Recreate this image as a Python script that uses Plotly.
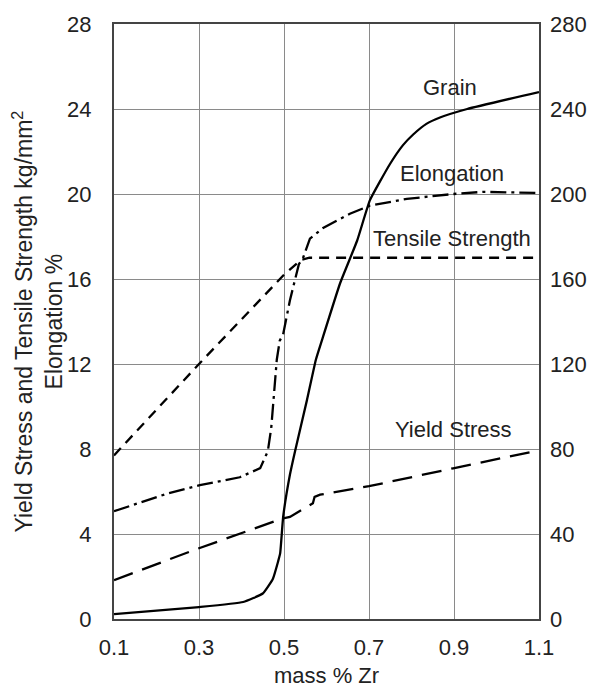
import plotly.graph_objects as go

# Data (mass % Zr)
grain_x = [0.1, 0.3, 0.404, 0.45, 0.474, 0.486, 0.491, 0.498, 0.514, 0.526, 0.554, 0.575, 0.589, 0.632, 0.672, 0.702, 0.749, 0.78, 0.804, 0.835, 0.867, 0.931, 1.1]
grain_y = [2.3, 5.6, 8, 12, 19, 27, 31, 48, 68, 79, 103, 122, 131, 158, 178, 197, 214, 223, 228, 233, 236, 240, 248]

elong_x = [0.1, 0.225, 0.302, 0.396, 0.444, 0.462, 0.47, 0.476, 0.483, 0.49, 0.498, 0.514, 0.535, 0.545, 0.561, 0.592, 0.655, 0.702, 0.789, 0.898, 0.968, 1.1]
elong_y = [5.07, 5.9, 6.3, 6.67, 7.1, 7.9, 9.0, 10.5, 12.2, 13.1, 13.4, 15.0, 16.7, 17.0, 17.9, 18.4, 19.07, 19.45, 19.77, 20.0, 20.1, 20.05]

tensile_x = [0.1, 0.3, 0.5, 0.54, 0.56, 1.1]
tensile_y = [7.7, 12.0, 16.2, 16.9, 17.0, 17.0]

yield_x = [0.1, 0.3, 0.498, 0.514, 0.568, 0.572, 0.585, 0.7, 0.898, 1.1]
yield_y = [1.83, 3.33, 4.74, 4.8, 5.45, 5.75, 5.85, 6.25, 7.09, 7.94]

x_ticks = [0.1, 0.3, 0.5, 0.7, 0.9, 1.1]
left_ticks = [0, 4, 8, 12, 16, 20, 24, 28]
right_ticks = [0, 40, 80, 120, 160, 200, 240, 280]

labels = ["Grain", "Elongation", "Tensile Strength", "Yield Stress"]
label_x = [0.89, 0.895, 0.895, 0.898]
label_y = [25.0, 20.95, 17.9, 8.9]

FONT = "Liberation Sans, Arial, sans-serif"
TXT = "#222"

fig = go.Figure()
fig.add_trace(go.Scatter(x=tensile_x, y=tensile_y, mode="lines",
                         line=dict(color="black", width=2.3, dash="10px,7px"), yaxis="y"))
fig.add_trace(go.Scatter(x=yield_x, y=yield_y, mode="lines",
                         line=dict(color="black", width=2.3, dash="20px,10px"), yaxis="y"))
fig.add_trace(go.Scatter(x=elong_x, y=elong_y, mode="lines",
                         line=dict(color="black", width=2.3, dash="16px,5px,3px,5px"), yaxis="y"))
fig.add_trace(go.Scatter(x=grain_x, y=grain_y, mode="lines",
                         line=dict(color="black", width=2.3, shape="spline", smoothing=0.4), yaxis="y2"))

for t, x, y in zip(labels, label_x, label_y):
    fig.add_annotation(x=x, y=y, xref="x", yref="y", text=t, showarrow=False,
                       font=dict(family=FONT, size=22, color=TXT), xanchor="center", yanchor="middle")

fig.add_annotation(xref="paper", yref="paper", x=-0.181, y=0.5,
                   text="Yield Stress and Tensile Strength kg/mm<sup>2</sup><br>Elongation %",
                   textangle=-90, showarrow=False, xanchor="center", yanchor="middle",
                   font=dict(family=FONT, size=23, color=TXT))
fig.add_annotation(xref="paper", yref="paper", x=0.5, y=-0.095,
                   text="mass % Zr", showarrow=False, xanchor="center", yanchor="middle",
                   font=dict(family=FONT, size=22, color=TXT))

fig.update_layout(
    width=591, height=691,
    margin=dict(l=114, r=52, t=24, b=72),
    paper_bgcolor="white", plot_bgcolor="white",
    showlegend=False,
    font=dict(family=FONT, size=22, color=TXT),
    xaxis=dict(range=[0.1, 1.1], tickvals=x_ticks, ticktext=[f"{v:.1f}" for v in x_ticks],
               showgrid=True, gridcolor="#8a8a8a", gridwidth=1,
               showline=True, linecolor="#444", linewidth=2, mirror=True,
               ticks="", zeroline=False, ticklabelstandoff=8, automargin=False),
    yaxis=dict(range=[0, 28], tickvals=left_ticks, showgrid=True, gridcolor="#8a8a8a", gridwidth=1,
               showline=True, linecolor="#444", linewidth=2, mirror=True,
               ticks="", zeroline=False, ticklabelstandoff=16, automargin=False),
    yaxis2=dict(range=[0, 280], tickvals=right_ticks, overlaying="y", side="right",
                showgrid=False, showline=False, ticks="", zeroline=False,
                ticklabelstandoff=10, automargin=False),
)

fig.write_html("out.html")
